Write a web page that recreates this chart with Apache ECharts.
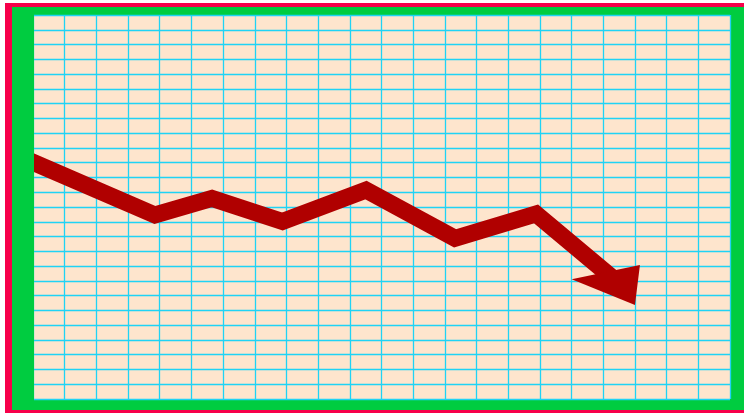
<!DOCTYPE html>
<html>
<head>
<meta charset="utf-8">
<script src="https://cdn.jsdelivr.net/npm/echarts@6/dist/echarts.min.js"></script>
<style>
  html, body { margin: 0; padding: 0; background: #ffffff; overflow: hidden; width: 744px; height: 413px; }
  #frame { position: absolute; left: 5px; top: 3px; width: 760px; height: 403px;
           background: #00cc40; border-left: 7px solid #f7004a; border-top: 4px solid #f7004a;
           border-bottom: 10px solid #f7004a; }
  #chart { position: absolute; left: 0px; top: 0px; width: 732px; height: 403px; }
</style>
</head>
<body>
<div id="frame"><div id="chart"></div></div>
<script>
// Trend line (x in grid columns, y in grid rows)
const lineX = [-0.25, 3.85, 5.65, 7.875, 10.51, 13.32, 15.88, 18.37];
const lineY = [16.26, 12.46, 13.58, 12.02, 14.15, 10.88, 12.53, 8.06];
// Arrowhead position
const arrowX = [18.08];
const arrowY = [7.72];
// Grid extents
const xMax = 22;
const yMax = 26;

const lineData = lineX.map((x, i) => [x, lineY[i]]);
const arrowData = arrowX.map((x, i) => [x, arrowY[i]]);

const GRID_LEFT = 21;
const chart = echarts.init(document.getElementById('chart'), null, { renderer: 'canvas' });
chart.setOption({
  backgroundColor: '#00cc40',
  animation: false,
  grid: {
    left: GRID_LEFT, right: 14, top: 8, bottom: 11,
    show: true, backgroundColor: '#fee5cd', borderWidth: 0
  },
  xAxis: {
    type: 'value', min: 0, max: xMax, interval: 1,
    axisLine: { show: false }, axisTick: { show: false }, axisLabel: { show: false },
    splitLine: { show: true, lineStyle: { color: '#1fd3f5', width: 1.3 } }
  },
  yAxis: {
    type: 'value', min: 0, max: yMax, interval: 1,
    axisLine: { show: false }, axisTick: { show: false }, axisLabel: { show: false },
    splitLine: { show: true, lineStyle: { color: '#1fd3f5', width: 1.3 } }
  },
  graphic: [
    {
      type: 'rect', z: 100,
      shape: { x: 0, y: 0, width: GRID_LEFT + 1, height: 403 },
      style: { fill: '#00cc40' }
    }
  ],
  series: [
    {
      type: 'line',
      data: lineData,
      symbol: 'none',
      clip: true,
      lineStyle: { color: '#b00000', width: 17, join: 'miter', cap: 'butt' },
      z: 3
    },
    {
      type: 'scatter',
      data: arrowData,
      symbol: 'path://M0,14.3 L68.3,0 L63.3,40 Z',
      symbolSize: [68.3, 40],
      itemStyle: { color: '#b00000', opacity: 1 },
      z: 4
    }
  ]
});
</script>
</body>
</html>
